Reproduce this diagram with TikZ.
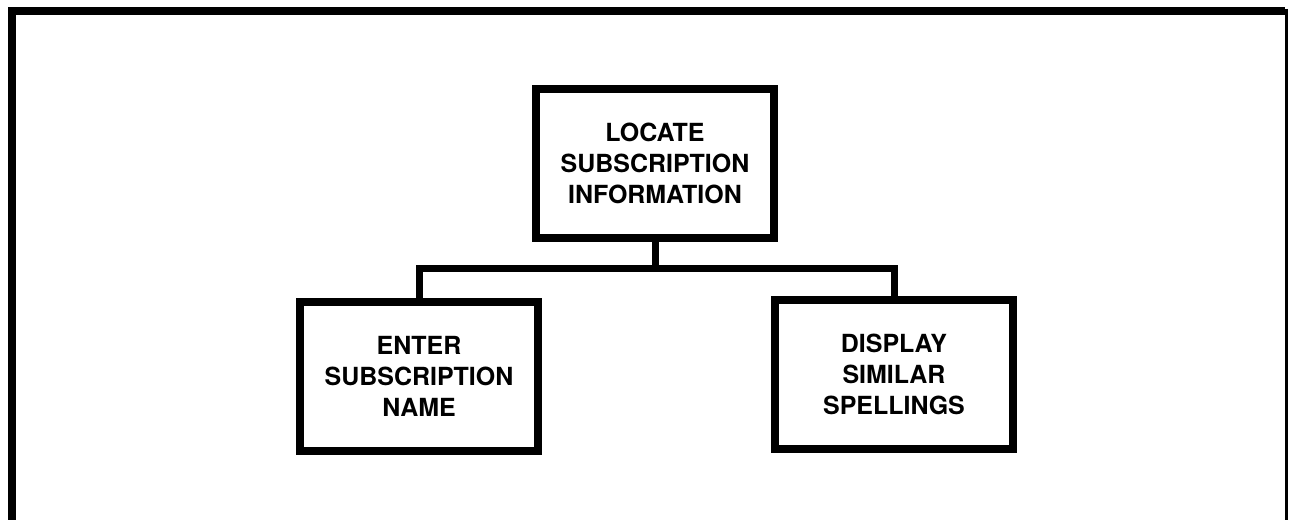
\documentclass[tikz,border=0pt]{standalone}
\usepackage{fontspec}
\setmainfont{TeX Gyre Heros}
\begin{document}
\begin{tikzpicture}[every node/.style={draw, rectangle}, line width=0.08cm]

\useasboundingbox (0,0) rectangle (12.91,-5.20);
\draw (0.12,-5.40) -- (0.12,-0.11) -- (12.85,-0.11);
\draw[line width=0.035cm] (12.865,-0.09) -- (12.865,-5.40);

\tikzset{every node/.style={draw, rectangle, line width=0.08cm, minimum width=2.38cm, minimum height=1.49cm, align=center, font=\bfseries\fontsize{7.1}{8.9}\selectfont}}
\node (loc) at (6.55,-1.635) {LOCATE\\SUBSCRIPTION\\INFORMATION};
\node (ent) at (4.19,-3.765) {ENTER\\SUBSCRIPTION\\NAME};
\node (dsp) at (8.94,-3.745) {DISPLAY\\SIMILAR\\SPELLINGS};

\tikzset{every node/.style={}};
\tikzset{link/.style={line width=0.07cm, line join=miter}};
\coordinate (j) at (6.55,-2.685);
\draw[link] (loc.south) -- (j) -| (ent.north);
\draw[link] (j) -| (dsp.north);
\end{tikzpicture}
\end{document}
